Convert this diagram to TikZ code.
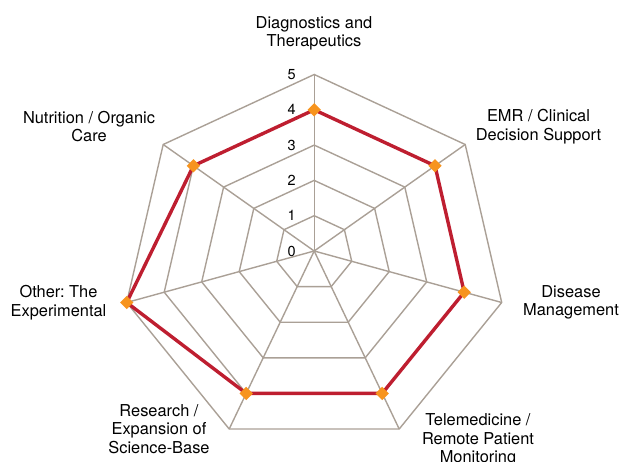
\documentclass[tikz,border=0pt]{standalone}
\usepackage{fontspec}
\setmainfont{TeX Gyre Heros}
\usetikzlibrary{shapes.geometric}
\definecolor{gridgray}{RGB}{170,160,150}
\definecolor{scorered}{RGB}{190,30,48}
\definecolor{dotorange}{RGB}{247,148,30}
\frenchspacing

\begin{document}
\begin{tikzpicture}[x=1pt, y=-1pt,
    web/.style={draw=gridgray, line width=1.4pt, line join=miter},
    score/.style={draw=scorered, line width=3.4pt, line join=miter},
    dot/.style={diamond, fill=dotorange, inner sep=0pt, minimum size=13.5pt},
    axislabel/.style={align=center, font=\fontsize{16.4}{18.6}\selectfont},
    ticklabel/.style={anchor=east, font=\fontsize{14.5}{16}\selectfont, inner sep=0pt}]
  \useasboundingbox (0,0) rectangle (621,462);
  \coordinate (c) at (314.2,251);
  % one step along each of the seven axes
  \foreach \n/\dx/\dy in {1/0/-35.3, 2/30.2/-21.3, 3/37.5/10.3, 4/17/35.6,
                          5/-17/35.6, 6/-37.5/10.3, 7/-30.2/-21.3}
    \foreach \k in {1,...,5}
      \coordinate (p\n-\k) at (314.2+\k*\dx, 251+\k*\dy);

  % web
  \foreach \k in {1,...,5}
    \draw[web] (p1-\k) -- (p2-\k) -- (p3-\k) -- (p4-\k) -- (p5-\k) -- (p6-\k) -- (p7-\k) -- cycle;
  \foreach \n in {1,...,7}
    \draw[web] (c) -- (p\n-5);

  % scale
  \foreach \k in {0,...,5}
    \node[ticklabel] (t\k) at (296, 251-35.3*\k) {\k};

  % scores
  \draw[score] (p1-4) -- (p2-4) -- (p3-4) -- (p4-4) -- (p5-4) -- (p6-5) -- (p7-4) -- cycle;
  \foreach \p/\name in {p1-4/diag, p2-4/emr, p3-4/dis, p4-4/tele, p5-4/res, p6-5/oth, p7-4/nut}
    \node[dot] (d\name) at (\p) {};

  \node[axislabel] (diag) at (314,33.5) {Diagnostics and\\Therapeutics};
  \node[axislabel] (emr)  at (538.5,126.5) {EMR / Clinical\\Decision Support};
  \node[axislabel] (dis)  at (571,302.5) {Disease\\Management};
  \node[axislabel] (tele) at (478,440) {Telemedicine /\\Remote Patient\\Monitoring};
  \node[axislabel] (res)  at (159,429) {Research /\\Expansion of\\Science-Base};
  \node[axislabel] (oth)  at (58.5,302.5) {Other: The\\Experimental};
  \node[axislabel] (nut)  at (89,126.5) {Nutrition / Organic\\Care};
\end{tikzpicture}
\end{document}
